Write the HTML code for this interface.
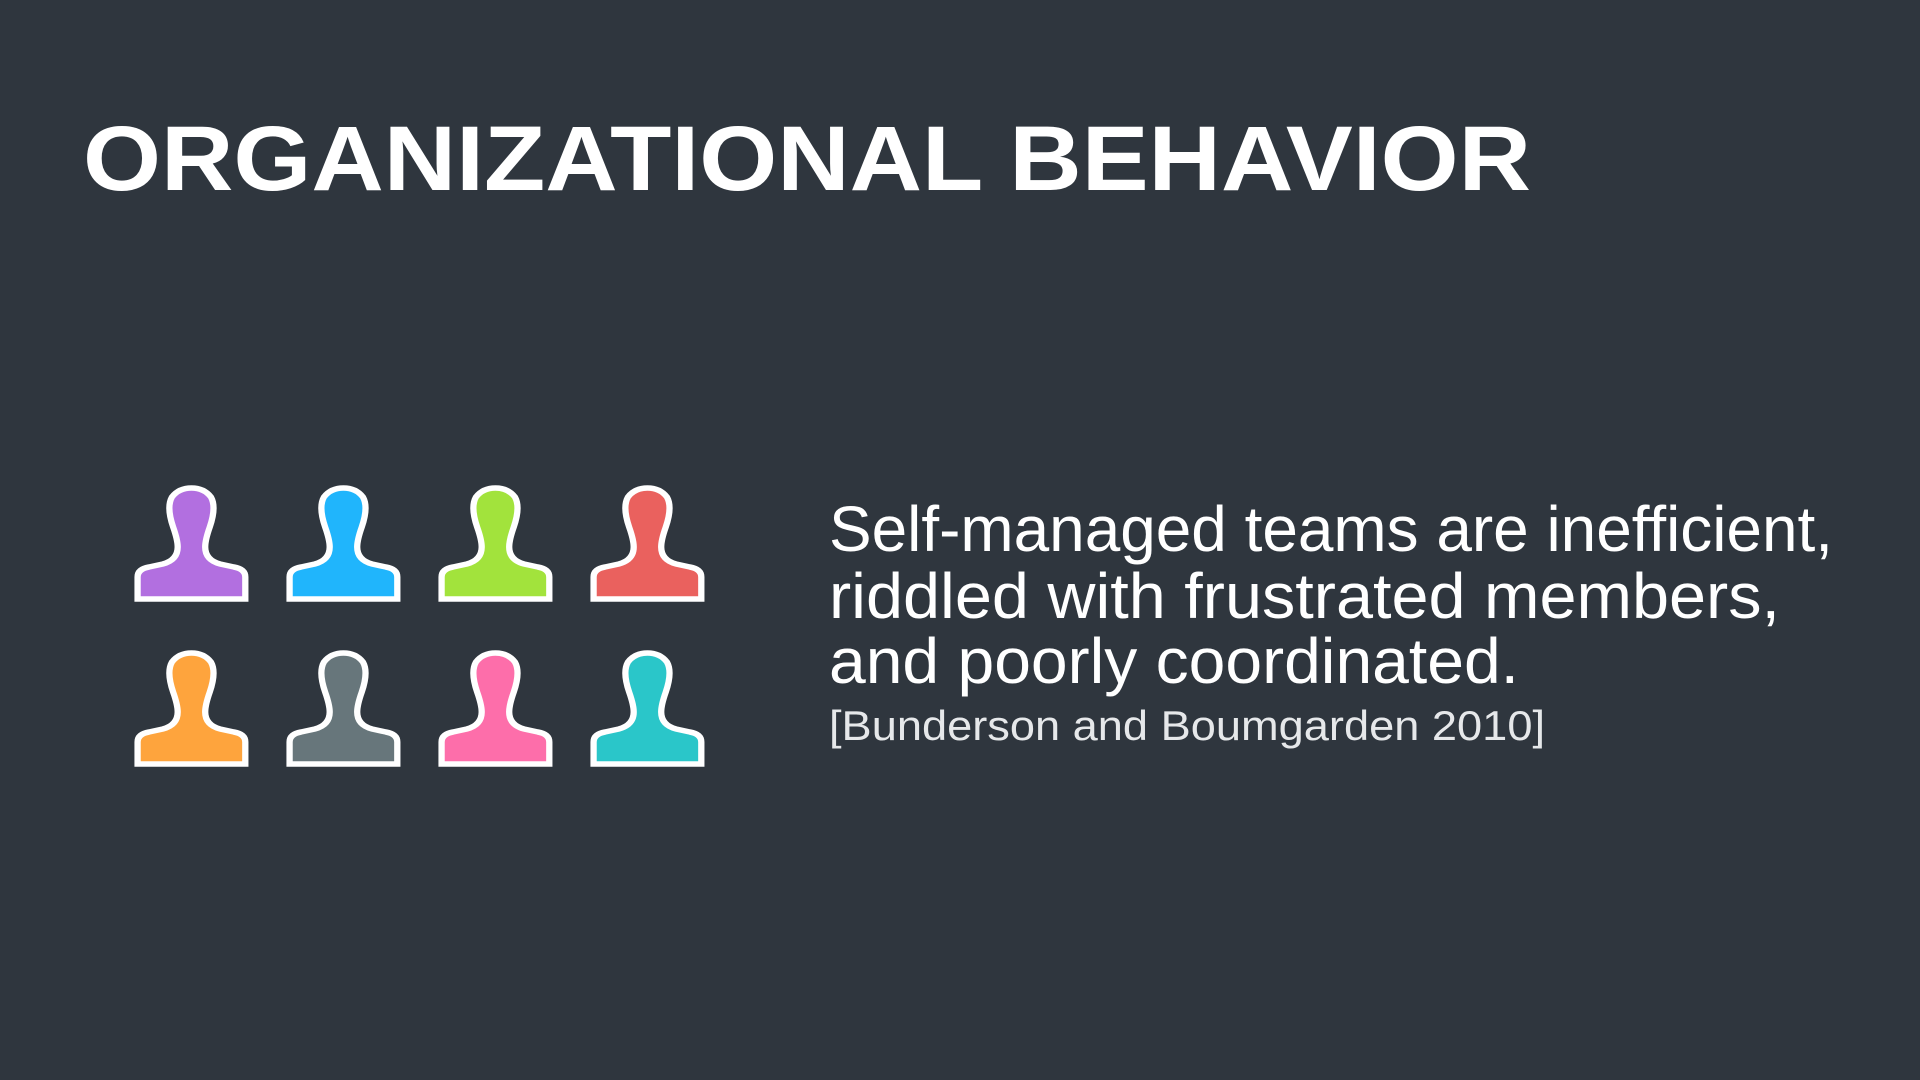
<!DOCTYPE html>
<html><head><meta charset="utf-8"><style>
html,body{margin:0;padding:0;background:#2f363e;}
svg{display:block}
</style></head><body>
<svg width="1920" height="1080" viewBox="0 0 1920 1080">
<rect width="1920" height="1080" fill="#2f363e"/>
<text x="83" y="190" font-family="Liberation Sans, sans-serif" font-weight="bold" font-size="92" fill="#ffffff" textLength="1448" lengthAdjust="spacingAndGlyphs">ORGANIZATIONAL BEHAVIOR</text>
<g id="people"></g>
<g font-family="Liberation Sans, sans-serif" fill="#ffffff">
<text x="829" y="551" font-size="64" textLength="1004" lengthAdjust="spacingAndGlyphs">Self-managed teams are inefficient,</text>
<text x="829" y="618" font-size="64" textLength="951" lengthAdjust="spacingAndGlyphs">riddled with frustrated members,</text>
<text x="829" y="683" font-size="64" textLength="690" lengthAdjust="spacingAndGlyphs">and poorly coordinated.</text>
<text x="829" y="740" font-size="42" fill="#e6e8ea" textLength="716" lengthAdjust="spacingAndGlyphs">[Bunderson and Boumgarden 2010]</text>
</g>
</svg>
<script>
const colors=['#b26fe0','#20b5fc','#a2e33c','#ea615e','#fea43d','#67767b','#fd6eaa','#2ac6c9'];
const g=document.getElementById('people');
const ns='http://www.w3.org/2000/svg';
const d='M 4 114 L 4 92 Q 4 84 14 82 L 26 79 Q 39 75 39 62 Q 39 55 35 42 Q 29 22 34 12 Q 40 3 51 3 Q 62 3 68 12 Q 73 22 67 42 Q 63 55 63 62 Q 63 75 76 79 L 88 82 Q 98 84 98 92 L 98 114 Z';
colors.forEach((c,i)=>{
  const p=document.createElementNS(ns,'path');
  p.setAttribute('d',d);
  p.setAttribute('fill',c);
  p.setAttribute('stroke','#ffffff');
  p.setAttribute('stroke-width','5.5');
  const x=133+(i%4)*152, y=485+Math.floor(i/4)*165;
  p.setAttribute('transform','translate('+x+','+y+') scale(1.146,1)');
  
  
  g.appendChild(p);
});
</script>
</body></html>
